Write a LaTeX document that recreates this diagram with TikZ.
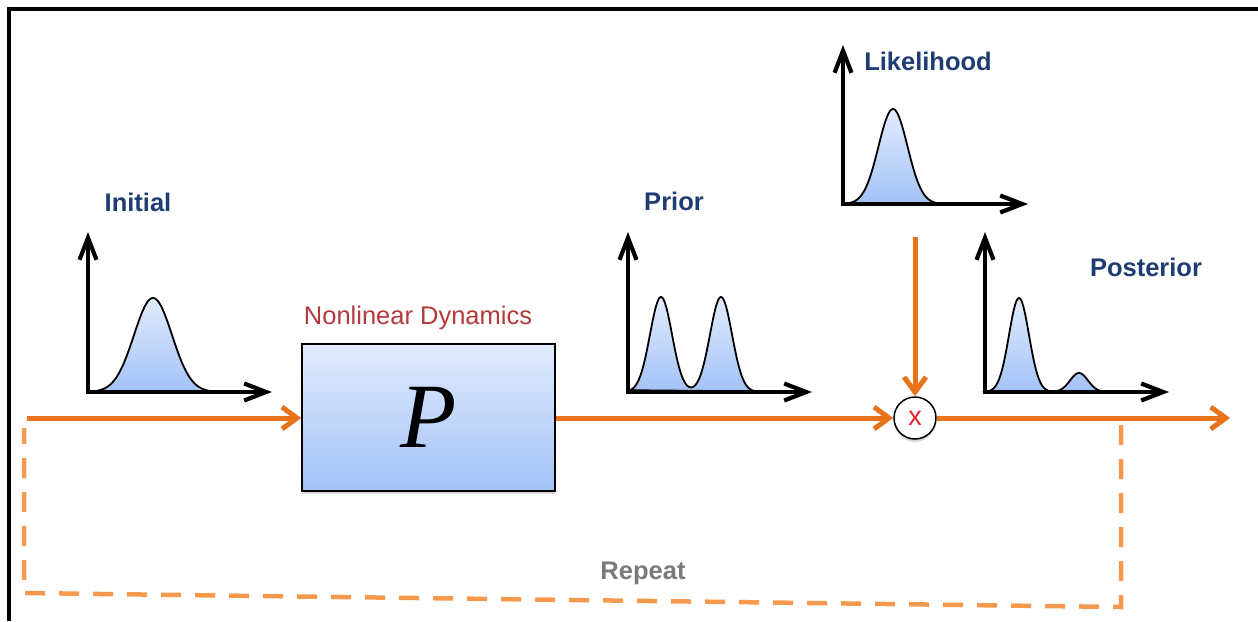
\documentclass[tikz,border=0pt]{standalone}
\usepackage{fontspec}
\setmainfont{Liberation Sans}
\newfontfamily\pfont{Liberation Serif}
\usetikzlibrary{arrows.meta,shadows}
\definecolor{orng}{RGB}{232,115,26}
\definecolor{dorng}{RGB}{247,153,77}
\definecolor{lblue}{RGB}{31,61,115}
\definecolor{nlred}{RGB}{178,58,60}
\definecolor{gtop}{RGB}{225,235,253}
\definecolor{gbot}{RGB}{163,194,247}
\definecolor{rgray}{RGB}{122,122,122}
\begin{document}
\begin{tikzpicture}[x=1pt,y=-1pt,
  flow/.style={draw=orng, line width=5pt, -{Straight Barb[length=15pt,width=22pt]}},
  axis/.style={draw=black, line width=4.2pt, line join=miter,
    {Straight Barb[length=22pt,width=17pt]}-{Straight Barb[length=22pt,width=17pt]}},
  curve/.style={draw=black, line width=1.8pt, top color=gtop, bottom color=gbot},
  title/.style={text=lblue, font=\fontsize{25.5}{30}\selectfont\bfseries},
  softshadow/.style={drop shadow={shadow xshift=0pt, shadow yshift=-3pt, opacity=0.3}},
  repeatline/.style={draw=dorng, line width=4.5pt, dash pattern=on 20pt off 14pt}
]
\useasboundingbox (0,0) rectangle (1258,621);
\fill[white] (0,0) rectangle (1258,621);
% frame
\draw[line width=4pt] (9,621) -- (9,9) -- (1258,9);

% Initial
\draw[curve] plot[domain=96:210, samples=90] (\x, {392-94*exp(-0.5*((\x-153)/19)^2)}) -- cycle;
\draw[axis] (88,232) -- (88,392) -- (272,392);
\node[title] (tinit) at (138,202) {Initial};

% Prior
\draw[curve] plot[domain=630:756, samples=130]
  (\x, {392-95*exp(-0.5*((\x-661)/11)^2)-95*exp(-0.5*((\x-721)/11)^2)}) -- cycle;
\draw[axis] (628,232) -- (628,392) -- (812,392);
\node[title] (tprior) at (674,201) {Prior};

% Likelihood
\draw[curve] plot[domain=847:939, samples=90] (\x, {204-95*exp(-0.5*((\x-893)/14.5)^2)}) -- cycle;
\draw[axis] (843,45) -- (843,204) -- (1028,204);
\node[title] (tlik) at (928,61) {Likelihood};

% Posterior
\draw[curve] plot[domain=988:1108, samples=130]
  (\x, {392-94*exp(-0.5*((\x-1019)/10)^2)-19*exp(-0.5*((\x-1079)/9)^2)}) -- cycle;
\draw[axis] (985,232) -- (985,392) -- (1169,392);
\node[title] (tpost) at (1146,267) {Posterior};

% box and multiplier
\node[draw, line width=1.5pt, top color=gtop, bottom color=gbot, softshadow,
  minimum width=253pt, minimum height=147pt, inner sep=0pt,
  font=\pfont\itshape\fontsize{92}{92}\selectfont] (P) at (428.5,417.5) {P\hspace{16pt}};
\node[text=nlred, font=\fontsize{25.5}{30}\selectfont] (tnl) at (418,318) {Nonlinear Dynamics};

\node[circle, draw, line width=1.5pt, fill=white, minimum size=42pt, inner sep=0pt,
  text={rgb,255:red,232;green,32;blue,42}, font=\fontsize{27}{27}\selectfont, softshadow] (mult) at (915,418) {x};

% connectors
\coordinate (start) at (27,418);
\coordinate (likstart) at (915,237);
\coordinate (end) at (1230,418);
\draw[flow] (start) -- (P.west |- start);
\draw[flow] (P.east |- start) -- (mult.west);
\draw[flow] (likstart) -- (mult.north);
\draw[flow] (mult.east) -- (end);

% repeat loop
\coordinate (r1) at (1121,425);
\coordinate (r2) at (1121,607);
\coordinate (r3) at (24,593);
\coordinate (r4) at (24,428);
\draw[repeatline] (r1) -- (r2) -- (r3) -- (r4);
\node[text=rgray, font=\fontsize{25.5}{30}\selectfont\bfseries] (trep) at (643,573) {Repeat};
\end{tikzpicture}
\end{document}
